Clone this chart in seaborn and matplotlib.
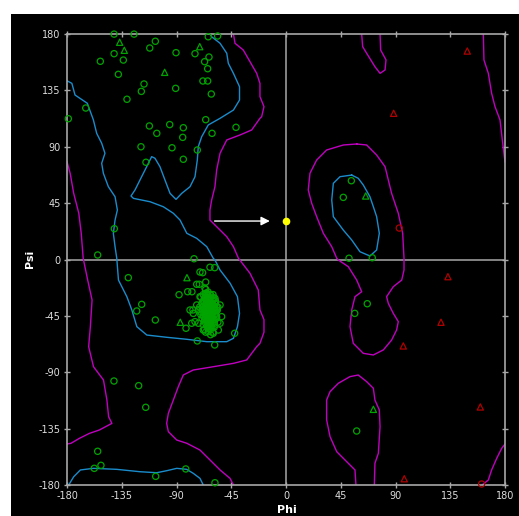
import matplotlib
matplotlib.use("Agg")
import matplotlib.pyplot as plt
from matplotlib.patches import Rectangle
import pandas as pd
import seaborn as sns

# ---- contour lines (phi, psi) ----
cyan_main = [(-180, 142.7), (-176, 140.6), (-173.4, 131.3), (-163.3, 124.7), (-158.3, 111.4),
             (-155.6, 100.7), (-151.5, 92.8), (-148.8, 84.8), (-151.5, 76.8), (-150.1, 68.8),
             (-146, 58.1), (-140.5, 50.1), (-138.6, 39.5), (-140.5, 31.5), (-141.9, 20.9),
             (-140.5, 10.2), (-139.1, 1), (-137.7, -16.4), (-130.8, -29.7), (-126.7, -40.3),
             (-122.6, -53.6), (-114.4, -60.3), (-98, -62.1), (-81.5, -63.7), (-65.1, -65.6),
             (-48.7, -65.6), (-43.2, -62.9), (-39.9, -53.6), (-38.2, -43), (-39.9, -29.7),
             (-45.9, -19), (-54.2, -8.4), (-58.4, -0.4), (-59.8, 1), (-65.1, 10.2), (-73.4, 16.9),
             (-81.5, 20.9), (-87.1, 31.5), (-92.6, 36.9), (-100.8, 42.1), (-111.7, 46.1),
             (-125.4, 48.8), (-127.4, 50.7), (-124.1, 55.5), (-120, 63.5), (-115.9, 71.4),
             (-110.4, 82.1), (-107.7, 80.8), (-103.6, 74.1), (-99.5, 63.5), (-95.3, 52.8),
             (-90.4, 48), (-85.7, 52.8), (-78.9, 58.1), (-74.8, 66.1), (-72.9, 79.4), (-72.1, 90),
             (-69.3, 98), (-63.9, 107.4), (-54.2, 112.7), (-43.2, 119.3), (-38.2, 127.3),
             (-38.2, 137.9), (-43.2, 148.6), (-47.4, 156.6), (-48.7, 164.6), (-54.2, 172.6),
             (-61.1, 177.8), (-62.5, 180)]
cyan_bottom = [(-178.6, -180), (-174.5, -173.4), (-169, -168), (-158.3, -166.7), (-139.1, -167.5),
               (-120, -169.4), (-106.3, -170.2), (-98.1, -168.6), (-89.8, -166.7), (-81.6, -167.5),
               (-76.2, -170.7), (-70.7, -174.7), (-68, -180)]
cyan_left_helix = [(54, 67.4), (44.4, 66.1), (38.9, 60.8), (37.6, 47.5), (38.9, 34.2), (47.1, 23.5),
                   (54, 15.6), (60.8, 6.2), (69, 2.8), (74.5, 7.6), (76.7, 20.9), (74.5, 34.2),
                   (71.8, 42.1), (69, 50.1), (63.5, 59.5), (59.4, 64.8), (54, 67.4)]

magenta_main = [(-43.2, 180), (-41.9, 172.6), (-35.1, 167.2), (-29.6, 157.9), (-24.1, 148.6),
                (-21.4, 140.6), (-21.4, 130), (-18.1, 122), (-20, 114), (-21.4, 112.7),
                (-28.2, 103.4), (-37.8, 99.4), (-48.7, 95.4), (-54.2, 84.8), (-57, 71.4),
                (-58.4, 58.1), (-61.1, 47.5), (-62.5, 39.5), (-62.5, 31.5), (-57, 26.2),
                (-48.7, 18.2), (-43.2, 10.2), (-39.1, 1), (-29.6, -11), (-22.8, -24.3),
                (-21.4, -40.3), (-18.1, -48), (-18.1, -58), (-21.4, -66.9), (-24.1, -69.6),
                (-32.3, -80.2), (-43.2, -82.9), (-59.8, -85.6), (-76.2, -88.2), (-84.4, -92.2),
                (-88.5, -101.5), (-92.6, -112.2), (-96.7, -122.8), (-98.1, -130.8), (-96.7, -137.4),
                (-89.8, -144.1), (-81.5, -146.7), (-70.7, -152.1), (-62.5, -160), (-54.2, -168),
                (-46, -174.7), (-43.2, -180)]
magenta_left = [(-180, 78), (-177.4, 68.8), (-174.5, 52.8), (-170.3, 36.9), (-168.3, 20.9),
                (-166.7, 1), (-163, -16.4), (-159.4, -32.3), (-160.8, -53.6), (-162.2, -69.6),
                (-158.2, -85.6), (-150, -96.2), (-147.2, -112.2), (-145.8, -125.5), (-143.1, -130.8),
                (-153.4, -136.1), (-161.6, -138.8), (-169.9, -142.8), (-176.7, -146.7), (-180, -147.3)]
magenta_left_helix = [(58.1, 92.2), (47.1, 91.4), (33.4, 87.4), (25.2, 79.4), (19.7, 68.8),
                      (18.3, 55.5), (21.1, 44.9), (25.2, 34.2), (30.7, 20.9), (37.6, 10.2),
                      (41.7, 1), (43, -0.4), (51.2, -5.7), (58.1, -16.4), (62.2, -25.7),
                      (56.7, -29.7), (54, -40.3), (52.6, -53.6), (55.3, -66.9), (63.5, -74.9),
                      (71.8, -76.2), (80, -72.2), (86.8, -64.3), (90.9, -56.3), (92.3, -49.6),
                      (88.2, -43), (84.1, -35), (82.7, -29.7), (88.2, -21.7), (95.1, -16.4),
                      (97, -8.4), (97, 1), (95.9, 20.9), (92.3, 36.9), (86.8, 52.8), (81.4, 74.1),
                      (74.5, 83.4), (66.3, 91.4), (58.1, 92.2)]
magenta_top_bump = [(62.2, 180), (63, 169.9), (66.3, 164.6), (73.1, 153.9), (77.3, 148.6),
                    (81.4, 151.3), (82.2, 159.3), (77.8, 167.2), (77.3, 180)]
magenta_bottom_mid = [(57.5, -180), (56.7, -168), (49.9, -161.4), (41.7, -153.4), (36.2, -141.4),
                      (33.4, -128.1), (33.4, -112.2), (36.2, -105.5), (43, -98.8), (52.6, -93.5),
                      (59.4, -92.2), (66.3, -97.5), (71.8, -102.8), (73.1, -112.2), (76.7, -120.1),
                      (77.3, -133.5), (75.9, -154.7), (73.1, -162.7), (72.6, -180)]
magenta_right_top = [(162.2, 180), (162.7, 159.3), (166.3, 148.6), (169, 132.7), (171.8, 122),
                     (175.9, 111.4), (177.8, 95.4), (180, 78)]
magenta_right_bottom = [(161.3, -180), (166.3, -176), (169, -168), (173.2, -158.7),
                        (177.3, -150.7), (180, -147.3)]

# ---- residues ----
green_circles = [(-141.3, 179.9), (-124.9, 179.9), (-107.4, 174.2), (-112, 168.8), (-141.3, 164.3),
                 (-90.4, 165.1), (-74.8, 164.3), (-63.3, 161.6), (-63.9, 177.8), (-56.2, 178.4),
                 (-152.6, 158.2), (-133.7, 159.2), (-66.9, 157.9), (-64.4, 152.3), (-137.8, 147.8),
                 (-116.7, 140.1), (-118.9, 134.2), (-90.7, 136.6), (-68.3, 142.5), (-64.4, 142.5),
                 (-61.4, 132.1), (-130.7, 127.9), (-164.6, 120.9), (-178.9, 112.4), (-112.3, 106.6),
                 (-95.6, 107.7), (-84.4, 105.2), (-66, 111.6), (-106.2, 100.7), (-84.9, 97.5),
                 (-60.8, 100.7), (-41.1, 105.5), (-119.2, 90), (-93.7, 89.2), (-72.9, 87.4),
                 (-84.4, 80), (-115.1, 77.6), (-141.1, 24.6), (-154.8, 3.6), (-75.6, 0.6),
                 (53.7, 62.9), (47.1, 49.6), (51.8, 1), (70.9, 1.4),
                 (-129.6, -14.5), (-118.6, -35.8), (-122.7, -41.1), (-107.4, -48.3), (-87.9, -28.1),
                 (-80.8, -25.7), (-77.3, -25.7), (-82.2, -54.9), (-72.9, -65), (-58.6, -68.2),
                 (-42.2, -58.9), (-141.4, -97), (-121.1, -100.7), (-115.3, -118), (-154.8, -153.1),
                 (-157.6, -166.7), (-152.1, -164.3), (-107.1, -173.1), (-82.4, -167.2), (-58.4, -178.2),
                 (66.8, -35.3), (56.5, -43), (58.1, -136.9),
                 (-62.5, -6.2), (-58.6, -6.5), (-70.7, -10), (-68.5, -10.5), (-66, -18), (-73.4, -19.8),
                 (-71.3, -19.8), (-78.9, -40.3), (-76.5, -40.3)]
# alpha-helix cluster: scattered rim
helix_phi = [-66, -64, -68, -62, -66, -70, -63, -60, -67, -65, -62, -69, -58, -64, -66, -61, -71, -68,
             -63, -59, -65, -62, -67, -70, -60, -64, -66, -62, -58, -68, -65, -61, -63, -67, -60, -64,
             -62, -66, -59, -63, -65, -61, -64, -62, -67, -60, -64, -63, -65, -64, -63, -65, -62, -66,
             -61, -64, -65, -63, -66, -62, -64, -63, -65, -61, -67, -64, -66, -60, -58, -57, -69, -70,
             -72, -56, -56, -68, -59, -66, -62, -54.2, -52.9, -55.6, -59.8, -63.9, -74.8, -76.2, -73.4,
             -77.5, -58.4, -57, -54.2, -66.6, -65.1, -70.7, -62.5, -68, -72]
helix_psi = [-24, -26, -28, -28, -30, -30, -31, -32, -33, -34, -34, -35, -35, -36, -37, -37, -38, -38,
             -39, -39, -40, -41, -41, -42, -42, -43, -44, -44, -44, -45, -46, -46, -47, -48, -48, -49,
             -50, -51, -51, -52, -53, -54, -55, -56, -56, -58, -38, -42, -43, -45, -36, -39, -46, -47,
             -40, -41, -35, -33, -42, -38, -47, -50, -48, -44, -39, -32, -27, -36, -41, -46, -47, -44,
             -40, -38, -50, -52, -54, -58, -60, -36.3, -45.6, -56.3, -58.9, -57.6, -49.6, -43, -36.3,
             -50.9, -31, -40.3, -50.9, -23, -27, -29.7, -53.6, -56.3, -50.9]
# alpha-helix cluster: dense core
core_phi = [-65, -62.5, -60,
            -67, -64.5, -62, -59.5,
            -68, -65.5, -63, -60.5, -58,
            -68.5, -66, -63.5, -61, -58.5,
            -69, -66.5, -64, -61.5, -59, -57,
            -68.5, -66, -63.5, -61, -58.5, -56.5,
            -68, -65.5, -63, -60.5, -58,
            -67.5, -65, -62.5, -60, -57.5,
            -66.5, -64, -61.5, -59,
            -65, -62.5, -60,
            -64, -61.5]
core_psi = [-28, -28, -28,
            -30.5, -30.5, -30.5, -30.5,
            -33, -33, -33, -33, -33,
            -35.5, -35.5, -35.5, -35.5, -35.5,
            -38, -38, -38, -38, -38, -38,
            -40.5, -40.5, -40.5, -40.5, -40.5, -40.5,
            -43, -43, -43, -43, -43,
            -45.5, -45.5, -45.5, -45.5, -45.5,
            -48, -48, -48, -48,
            -50.5, -50.5, -50.5,
            -53, -53]
green_triangles = [(-136.7, 173.4), (-132.9, 167), (-99.7, 149.4), (-70.9, 169.9), (65.5, 50.7),
                   (-81.4, -14.5), (-86.9, -50.1), (71.8, -119.6)]
red_triangles = [(149, 166.4), (88.5, 116.7), (133.1, -13.7), (127.4, -50.1), (96.4, -69),
                 (159.7, -117.7), (97.2, -175)]
red_circles = [(93.1, 25.1), (160.8, -179.2)]
selected = (0, 30.7)
arrow_start = -61

ticks = list(range(-180, 181, 45))

GREEN = "#00a400"
RED = "#b00000"
CYAN = "#1a8ccc"
MAGENTA = "#c000c0"
GRAY = "#a8a8a8"

plt.rcParams["axes.unicode_minus"] = False

fig = plt.figure(figsize=(5.19, 5.16), dpi=100)
fig.patch.set_facecolor("white")
fig.add_artist(Rectangle((10.5 / 519, 0), 1 - 10.5 / 519, 1 - 14 / 516, transform=fig.transFigure,
                         facecolor="black", edgecolor="none", zorder=0))
ax = fig.add_axes([67 / 519, 31 / 516, 438 / 519, 451 / 516])
ax.set_facecolor("black")

for line, col in [(cyan_main, CYAN), (cyan_bottom, CYAN), (cyan_left_helix, CYAN),
                  (magenta_main, MAGENTA), (magenta_left, MAGENTA), (magenta_left_helix, MAGENTA),
                  (magenta_top_bump, MAGENTA), (magenta_bottom_mid, MAGENTA),
                  (magenta_right_top, MAGENTA), (magenta_right_bottom, MAGENTA)]:
    df = pd.DataFrame(line, columns=["phi", "psi"])
    sns.lineplot(data=df, x="phi", y="psi", sort=False, estimator=None, color=col, lw=1.0, ax=ax)

ax.axhline(0, color=GRAY, lw=1.1, zorder=1)
ax.axvline(0, color=GRAY, lw=1.1, zorder=1)

gc = pd.DataFrame(green_circles, columns=["phi", "psi"])
hx = pd.DataFrame({"phi": helix_phi + core_phi, "psi": helix_psi + core_psi})
gt = pd.DataFrame(green_triangles, columns=["phi", "psi"])
rt = pd.DataFrame(red_triangles, columns=["phi", "psi"])
rc = pd.DataFrame(red_circles, columns=["phi", "psi"])
for df, mk, col in [(gc, "o", GREEN), (hx, "o", GREEN), (gt, "^", GREEN), (rt, "^", RED), (rc, "o", RED)]:
    sns.scatterplot(data=df, x="phi", y="psi", marker=mk, s=20, facecolor="none",
                    edgecolor=col, linewidth=0.9, ax=ax, zorder=3, clip_on=False)

ax.annotate("", xy=(-11, selected[1]), xytext=(arrow_start, selected[1]),
            arrowprops=dict(arrowstyle="-|>", color="white", lw=1.0, mutation_scale=13), zorder=4)
ax.plot(*selected, "o", color="#ffff00", ms=4.5, zorder=5)

ax.set_xlim(-180, 180)
ax.set_ylim(-180, 180)
ax.set_xticks(ticks)
ax.set_yticks(ticks)
ax.set_xlabel("")
ax.set_ylabel("")
for s in ax.spines.values():
    s.set_color(GRAY)
    s.set_linewidth(1.2)
ax.tick_params(direction="inout", length=5, width=1, color=GRAY, labelcolor="#dddddd",
               labelsize=7, top=True, right=True, pad=2)

fig.text(30 / 519, 1 - 259 / 516, "Psi", rotation=90, color="white", fontsize=8,
         fontweight="bold", ha="center", va="center")
fig.text(277 / 519, 1 - 505 / 516, "Phi", color="white", fontsize=8, fontweight="bold",
         ha="left", va="top")

fig.savefig("out.png", dpi=100, facecolor=fig.get_facecolor())
